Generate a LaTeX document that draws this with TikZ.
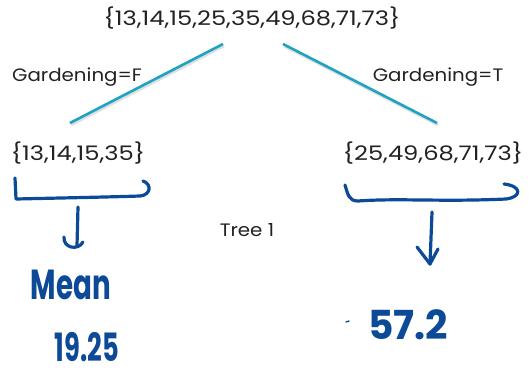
\documentclass[tikz,border=0pt]{standalone}
\usepackage{fontspec}
\setmainfont{Poppins}
\newfontfamily\setfont[FakeStretch=1.21]{Poppins}
\newfontfamily\lblfont[FakeStretch=1.1]{Poppins}
\newfontfamily\handnarrow[FakeStretch=0.66]{Poppins}
\newfontfamily\handwide[FakeStretch=0.98]{Poppins}
\definecolor{splitline}{HTML}{1FA3C2}
\definecolor{ink}{HTML}{0C4A98}
\definecolor{settext}{HTML}{222222}
\tikzset{
  settxt/.style={text=settext, inner sep=0pt, font=\setfont\fontsize{20}{24}\selectfont},
  lbltxt/.style={text=settext, inner sep=0pt, font=\lblfont\fontsize{18}{22}\selectfont},
  branch/.style={draw=splitline, line width=2.6pt},
  branchshadow/.style={draw=black!35, line width=2.6pt, opacity=0.35},
  pen/.style={draw=ink, line width=3.2pt, line cap=round, line join=round},
  handtxt/.style={text=ink, inner sep=0pt, font=\handnarrow\bfseries\fontsize{42}{46}\selectfont},
  handtxtw/.style={text=ink, inner sep=0pt, font=\handwide\bfseries\fontsize{40}{44}\selectfont}
}
\begin{document}
\begin{tikzpicture}[x=1pt,y=-1pt]
  \useasboundingbox[fill=white] (0,0) rectangle (532,372);

  % the set before the split and the two subsets after it
  \node[settxt] (root)  at (252,18)  {\{13,14,15,25,35,49,68,71,73\}};
  \node[settxt] (left)  at (78,153)  {\{13,14,15,35\}};
  \node[settxt] (right) at (433,153) {\{25,49,68,71,73\}};

  % end points of the two branches
  \coordinate (lt) at (223,44);
  \coordinate (lb) at (70,123);
  \coordinate (rt) at (283,44);
  \coordinate (rb) at (437,123);

  \draw[branchshadow] ([shift={(1,2)}]lt) -- ([shift={(1,2)}]lb);
  \draw[branchshadow] ([shift={(1,2)}]rt) -- ([shift={(1,2)}]rb);
  \draw[branch] (lt) -- (lb);
  \draw[branch] (rt) -- (rb);

  \node[lbltxt] (lf) at (77,77)  {Gardening=F};
  \node[lbltxt] (lt2) at (438,77) {Gardening=T};

  \node[lbltxt] (title) at (247,230) {Tree 1};

  % hand-drawn braces under the subsets
  \coordinate (lb1) at (15,178);
  \draw[pen] (lb1) -- (16,199) .. controls (60,198) and (110,197) .. (140,196)
             .. controls (151,195) and (152,184) .. (143,181);
  \coordinate (rb1) at (345,185);
  \draw[pen] (rb1) .. controls (348,195) and (349,201) .. (358,201)
             .. controls (400,198) and (440,202) .. (506,199)
             .. controls (522,197) and (522,186) .. (504,184);

  % hand-drawn arrows towards the means
  \coordinate (la1) at (78,207);
  \coordinate (la2) at (77,246);
  \draw[pen] (la1) -- (la2);
  \draw[pen] (64,237) .. controls (63,248) and (78,251) .. (83,242);
  \coordinate (ra1) at (432,212);
  \coordinate (ra2) at (430,264);
  \draw[pen] (ra1) -- (ra2);
  \draw[pen] (417,247) -- (ra2) -- (438,249);

  % the leaf means
  \node[handtxt] (meanlbl) at (71,285) {Mean};
  \node[handtxt, font=\handnarrow\bfseries\fontsize{39}{43}\selectfont] (meanl) at (87,347) {19.25};
  \node[handtxtw] (meanr) at (408,325) {57.2};
  \draw[draw=ink, line width=1.4pt, line cap=round] (346,322) -- (349,321);
\end{tikzpicture}
\end{document}
